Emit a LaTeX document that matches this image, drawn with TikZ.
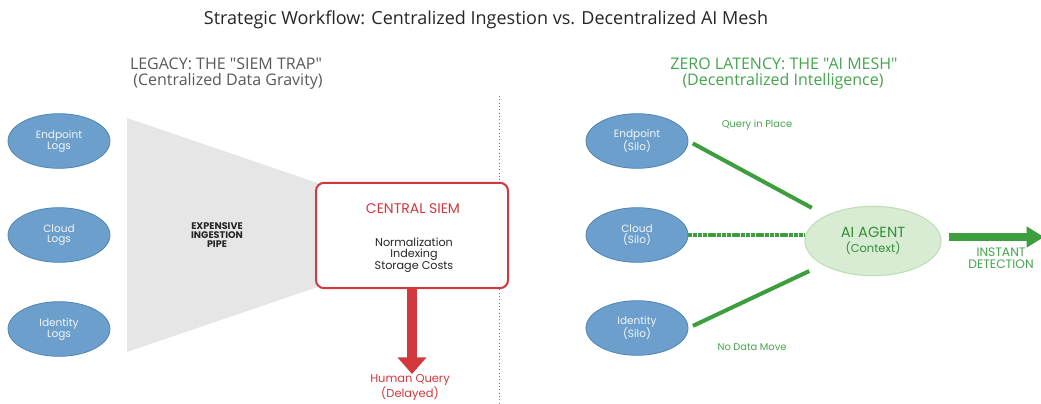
\documentclass[tikz,border=0pt]{standalone}
\usepackage{fontspec}
\setmainfont{Poppins}
\newfontfamily\headfont{Open Sans}
\usetikzlibrary{shapes.geometric,arrows.meta,calc}
\definecolor{blfill}{HTML}{6C9FCB}
\definecolor{bldraw}{HTML}{4F86B5}
\definecolor{sred}{HTML}{D2383E}
\definecolor{sgreen}{HTML}{3C9E3C}
\definecolor{tgreen}{HTML}{45A54C}
\definecolor{aifill}{HTML}{D7ECD3}
\definecolor{aidraw}{HTML}{BCDFB5}
\definecolor{tri}{HTML}{E6E6E6}
\tikzset{
  src/.style={ellipse, fill=blfill, draw=bldraw, line width=0.6pt, minimum width=76.5pt, minimum height=41pt, inner sep=0pt, align=center, text=white!92!blfill, font=\fontsize{7.9}{8.2}\selectfont},
  glink/.style={draw=sgreen, line width=3pt},
  gtext/.style={text=tgreen, font=\fontsize{7.4}{8}\selectfont},
  heading/.style={font=\headfont\fontsize{12}{13}\selectfont, align=center, inner sep=0pt},
}
\begin{document}
\begin{tikzpicture}[x=0.75pt,y=-0.75pt]
\useasboundingbox[fill=white] (0,0) rectangle (1041,403);
% title
\node[inner sep=0pt, font=\headfont\fontsize{13.5}{15}\selectfont, text=black!85] (title) at (486,20) {Strategic Workflow: Centralized Ingestion vs. Decentralized AI Mesh};
% headings
\node[heading, text=black!65] (lh1) at (226,64) {LEGACY: THE "SIEM TRAP"};
\node[heading, text=black!65] (lh2) at (228,81) {(Centralized Data Gravity)};
\node[heading, text=tgreen] (rh1) at (784,64) {ZERO LATENCY: THE "AI MESH"};
\node[heading, text=tgreen] (rh2) at (783,81) {(Decentralized Intelligence)};
% divider
\coordinate (dtop) at (499,96);
\coordinate (dbot) at (499,403);
\draw[black!55, line width=0.5pt, dotted] (dtop) -- (dbot);
% funnel
\fill[tri] (127,118) -- (470,235) -- (127,352) -- cycle;
\node[inner sep=0pt, align=center, font=\fontsize{7.2}{6.8}\selectfont\bfseries, text=black!85] (pipe) at (217,235) {EXPENSIVE\\INGESTION\\PIPE};
% left sources
\node[src] (el) at (59,141) {Endpoint\\Logs};
\node[src] (cl) at (59,235) {Cloud\\Logs};
\node[src] (il) at (59,329) {Identity\\Logs};
% SIEM box
\node[draw=sred, fill=white, line width=1.5pt, rounded corners=6pt, minimum width=144pt, minimum height=79pt] (siem) at (412,235.5) {};
\node[text=sred, font=\fontsize{10.5}{12}\selectfont, inner sep=0pt] (siemt) at (413,209) {CENTRAL SIEM};
\node[text=black!85, align=center, font=\fontsize{8.4}{8.6}\selectfont, inner sep=0pt] (siemb) at (414,255) {Normalization\\Indexing\\Storage Costs};
\coordinate (hqtip) at (412,374);
\draw[sred, line width=7.5pt, -{Triangle[width=21pt,length=12.5pt]}] (siem.south) -- (hqtip);
\node[text=sred, align=center, font=\fontsize{8.6}{8.2}\selectfont, inner sep=0pt] (hq) at (410,387) {Human Query\\(Delayed)};
% right sources
\node[src] (er) at (637,141) {Endpoint\\(Silo)};
\node[src] (cr) at (637,235) {Cloud\\(Silo)};
\node[src] (ir) at (637,328) {Identity\\(Silo)};
% AI agent
\node[ellipse, fill=aifill, draw=aidraw, line width=0.8pt, minimum width=102pt, minimum height=52pt, inner sep=0pt, align=center, text=sgreen!90!black] (ai) at (873,241) {{\fontsize{11}{11}\selectfont AI AGENT}\\[-1pt]{\fontsize{8.6}{9}\selectfont (Context)}};
% links
\draw[glink, shorten <=3.75pt, shorten >=12pt] (er.east) -- (ai);
\draw[glink, dash pattern=on 3pt off 0.6pt] (cr.east) -- (ai.west |- cr.east);
\draw[glink, shorten <=3.75pt, shorten >=11pt] (ir.east) -- (ai);
\node[gtext, inner sep=0pt] (qip) at (757,125) {Query in Place};
\node[gtext, inner sep=0pt] (ndm) at (752,347) {No Data Move};
% output arrow
\coordinate (detip) at (1044,237);
\draw[sgreen, line width=5.6pt, -{Triangle[width=15pt,length=13pt]}] ($(ai.east)+(7,-4)$) -- (detip);
\node[text=tgreen, align=center, font=\fontsize{9.2}{9}\selectfont, inner sep=0pt] (inst) at (1001,258) {INSTANT\\DETECTION};
\end{tikzpicture}
\end{document}
